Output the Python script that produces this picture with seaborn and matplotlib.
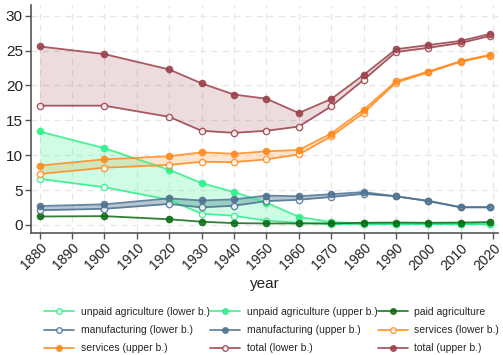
import matplotlib
matplotlib.use("Agg")
import matplotlib.pyplot as plt
import seaborn as sns
import numpy as np
from matplotlib.lines import Line2D

# employment shares by sector, lower and upper bounds
years = [1880, 1900, 1920, 1930, 1940, 1950, 1960, 1970, 1980, 1990, 2000, 2010, 2019]
unpaid_lo = [6.6, 5.4, 3.6, 1.6, 1.3, 0.6, 0.3, 0.12, 0.1, 0.1, 0.1, 0.1, 0.1]
unpaid_hi = [13.4, 11.0, 7.9, 6.0, 4.7, 3.2, 1.15, 0.4, 0.2, 0.15, 0.15, 0.15, 0.15]
paid_agri = [1.2, 1.25, 0.8, 0.45, 0.25, 0.2, 0.2, 0.2, 0.3, 0.33, 0.3, 0.33, 0.4]
manu_lo = [2.1, 2.3, 3.0, 2.5, 2.75, 3.4, 3.6, 4.0, 4.45, 4.1, 3.4, 2.5, 2.5]
manu_hi = [2.7, 2.95, 3.8, 3.5, 3.65, 4.2, 4.1, 4.4, 4.7, 4.1, 3.45, 2.55, 2.55]
serv_lo = [7.3, 8.2, 8.6, 9.05, 9.0, 9.4, 10.1, 12.7, 16.05, 20.4, 21.9, 23.4, 24.3]
serv_hi = [8.5, 9.4, 9.85, 10.4, 10.2, 10.55, 10.75, 13.1, 16.5, 20.6, 22.0, 23.5, 24.4]
total_lo = [17.1, 17.1, 15.5, 13.5, 13.2, 13.5, 14.1, 17.0, 20.8, 24.8, 25.4, 26.1, 27.1]
total_hi = [25.6, 24.5, 22.3, 20.3, 18.7, 18.1, 16.05, 18.05, 21.5, 25.2, 25.8, 26.4, 27.4]

tick_years = list(range(1880, 2021, 10))
y_ticks = [0, 5, 10, 15, 20, 25, 30]

c_unpaid = "#2cf08a"
c_paid = "#0b6b12"
c_manu = "#4d7290"
c_serv = "#ff8a1c"
c_total = "#9a3e48"

sns.set_style("white")
plt.rcParams["font.family"] = ["Liberation Sans", "DejaVu Sans"]

fig, ax = plt.subplots(figsize=(5.03, 3.55), dpi=100)
fig.subplots_adjust(left=0.062, right=0.99, top=0.985, bottom=0.345)

# shaded bands between bounds
ax.fill_between(years, total_lo, total_hi, color=c_total, alpha=0.18, lw=0, zorder=1)
ax.fill_between(years, serv_lo, serv_hi, color=c_serv, alpha=0.22, lw=0, zorder=1)
ax.fill_between(years, manu_lo, manu_hi, color=c_manu, alpha=0.40, lw=0, zorder=1)
ax.fill_between(years, unpaid_lo, unpaid_hi, color=c_unpaid, alpha=0.22, lw=0, zorder=1)

series = [
    ("unpaid agriculture (lower b.)", unpaid_lo, c_unpaid, True),
    ("unpaid agriculture (upper b.)", unpaid_hi, c_unpaid, False),
    ("paid agriculture", paid_agri, c_paid, False),
    ("manufacturing (lower b.)", manu_lo, c_manu, True),
    ("manufacturing (upper b.)", manu_hi, c_manu, False),
    ("services (lower b.)", serv_lo, c_serv, True),
    ("services (upper b.)", serv_hi, c_serv, False),
    ("total (lower b.)", total_lo, c_total, True),
    ("total (upper b.)", total_hi, c_total, False),
]

handles = []
for label, vals, col, hollow in series:
    face = "white" if hollow else col
    sns.lineplot(x=years, y=vals, ax=ax, color=col, lw=1.3, alpha=0.85,
                 marker="o", markersize=4.5, markerfacecolor=face,
                 markeredgecolor=col, markeredgewidth=1.0, zorder=3)
    handles.append(Line2D([0], [0], color=col, lw=1.3, alpha=0.85, marker="o",
                          markersize=4, markerfacecolor=face,
                          markeredgecolor=col, markeredgewidth=1.0))

ax.set_xlim(1877.4, 2021.5)
ax.set_ylim(-1.1, 31.5)
ax.set_xticks(tick_years)
ax.set_xticklabels([str(t) for t in tick_years], rotation=45, ha="right",
                   rotation_mode="anchor", fontsize=10, color="#222222")
ax.set_yticks(y_ticks)
ax.set_yticklabels([str(t) for t in y_ticks], fontsize=11, color="#222222")
ax.tick_params(axis="both", direction="out", length=4, width=1, color="#555555",
               bottom=True, left=True, pad=2)
ax.set_xlabel("year", fontsize=11, color="#222222", labelpad=3)
ax.set_ylabel("")

ax.grid(True, color="#e6e6e6", lw=0.9, ls=(0, (5, 4)), zorder=0)
ax.set_axisbelow(True)
for side in ["top", "right"]:
    ax.spines[side].set_visible(False)
for side in ["left", "bottom"]:
    ax.spines[side].set_color("#555555")
    ax.spines[side].set_linewidth(1.2)

# legend laid out row by row across three columns
labels = [s[0] for s in series]
order = [0, 3, 6, 1, 4, 7, 2, 5, 8]
ax.legend([handles[i] for i in order], [labels[i] for i in order],
          ncol=3, loc="upper center", bbox_to_anchor=(0.515, -0.31),
          frameon=False, fontsize=7.5, handlelength=2.9, columnspacing=0.0,
          handletextpad=0.65, labelspacing=0.78, borderaxespad=0)

fig.savefig("out.png", dpi=100)
